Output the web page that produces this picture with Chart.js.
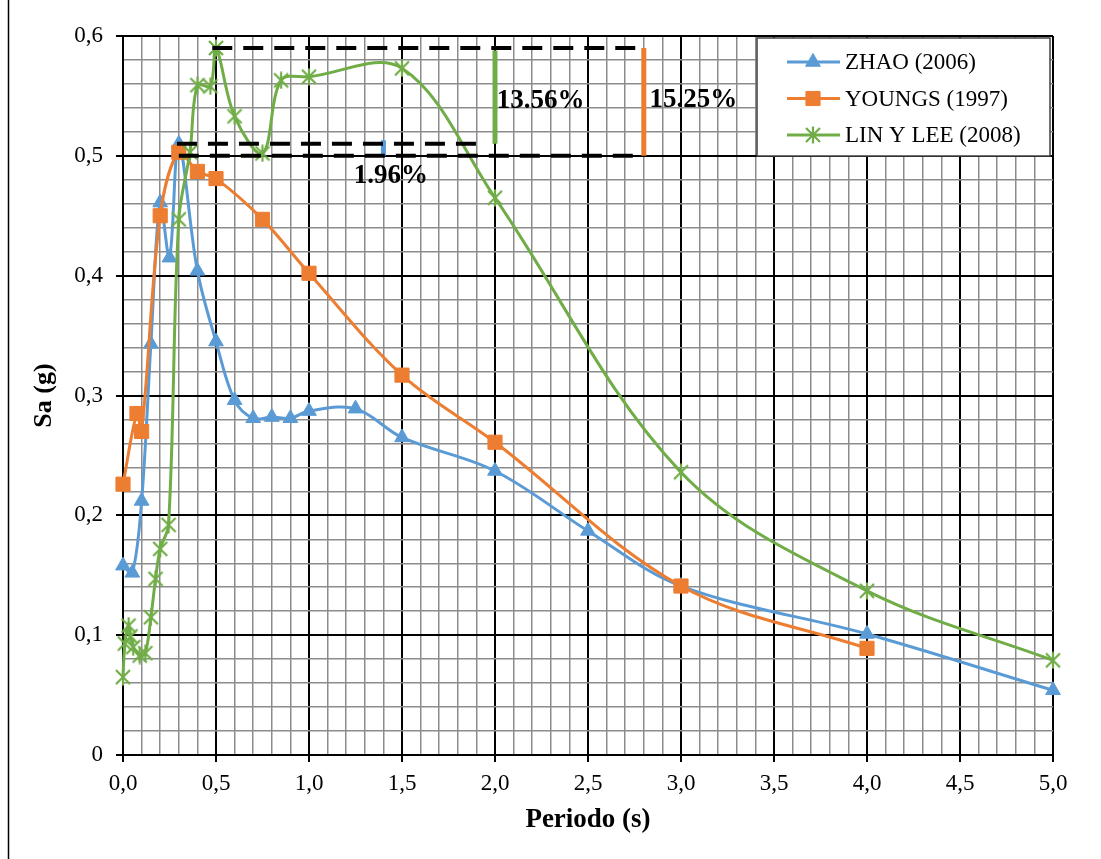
<!DOCTYPE html>
<html>
<head>
<meta charset="utf-8">
<script src="https://cdn.jsdelivr.net/npm/chart.js@4.4.1/dist/chart.umd.min.js"></script>
<style>
  html, body { margin: 0; padding: 0; background: #fff; }
  canvas { display: block; }
</style>
</head>
<body>
<canvas id="chart" width="1101" height="859"></canvas>
<script>
// DATOS (periodo en s, Sa en g)
const zhaoT  = [0, 0.05, 0.1, 0.15, 0.2, 0.25, 0.3, 0.4, 0.5, 0.6, 0.7, 0.8, 0.9, 1.0, 1.25, 1.5, 2.0, 2.5, 3.0, 4.0, 5.0];
const zhaoSa = [0.158, 0.152, 0.212, 0.343, 0.461, 0.415, 0.510, 0.404, 0.345, 0.296, 0.281, 0.282, 0.281, 0.287, 0.289, 0.265, 0.237, 0.187, 0.141, 0.101, 0.054];

const youngsT  = [0, 0.075, 0.1, 0.2, 0.3, 0.4, 0.5, 0.75, 1.0, 1.5, 2.0, 3.0, 4.0];
const youngsSa = [0.226, 0.285, 0.270, 0.450, 0.503, 0.487, 0.481, 0.447, 0.402, 0.317, 0.261, 0.141, 0.089];

const linT  = [0, 0.01, 0.03, 0.04, 0.055, 0.09, 0.12, 0.15, 0.175, 0.2, 0.245, 0.3, 0.36, 0.4, 0.47, 0.5, 0.6, 0.75, 0.85, 1.0, 1.5, 2.0, 3.0, 4.0, 5.0];
const linSa = [0.065, 0.093, 0.108, 0.099, 0.090, 0.083, 0.085, 0.115, 0.147, 0.172, 0.192, 0.447, 0.503, 0.559, 0.558, 0.590, 0.533, 0.502, 0.563, 0.566, 0.573, 0.465, 0.236, 0.137, 0.079];

const seriesNames = ["ZHAO (2006)", "YOUNGS (1997)", "LIN Y LEE (2008)"];

// niveles de referencia y diferencias
const levelLin = 0.59, levelZhao = 0.51, levelYoungs = 0.50;
const pctLabels = ["13.56%", "15.25%", "1.96%"];
const pctX = [2.01, 2.83, 1.24];
const pctY = [0.540, 0.541, 0.4775];

const BLUE = "#5B9BD5", ORANGE = "#ED7D31", GREEN = "#70AD47";
const FONT = "'Liberation Serif', 'Times New Roman', serif";

const toXY = (xs, ys) => xs.map((x, i) => ({ x: x, y: ys[i] }));

// marcador asterisco
function makeStar(color) {
  const c = document.createElement("canvas");
  c.width = 18; c.height = 18;
  const g = c.getContext("2d");
  g.strokeStyle = color;
  g.lineWidth = 2.2;
  g.beginPath();
  g.moveTo(2, 2); g.lineTo(16, 16);
  g.moveTo(16, 2); g.lineTo(2, 16);
  g.moveTo(9, 0.5); g.lineTo(9, 17.5);
  g.stroke();
  return c;
}
const starImg = makeStar(GREEN);

const isMajor = (v, step) => Math.abs(v / step - Math.round(v / step)) < 1e-6;

function dashed(x0, x1, y) {
  return {
    data: [{ x: x0, y: y }, { x: x1, y: y }],
    showLine: true, borderColor: "#000", borderWidth: 4, borderDash: [20, 11],
    pointRadius: 0, tension: 0, order: 0
  };
}
function bar(x, y0, y1, color) {
  return {
    data: [{ x: x, y: y0 }, { x: x, y: y1 }],
    showLine: true, borderColor: color, borderWidth: 5,
    pointRadius: 0, tension: 0, order: 0
  };
}

// fondo y marco
const frame = {
  id: "frame",
  beforeDraw(chart) {
    const ctx = chart.ctx;
    ctx.save();
    ctx.fillStyle = "#fff";
    ctx.fillRect(0, 0, chart.width, chart.height);
    ctx.strokeStyle = "#000";
    ctx.lineWidth = 1.5;
    ctx.beginPath();
    ctx.moveTo(8.5, 0);
    ctx.lineTo(8.5, chart.height);
    ctx.stroke();
    ctx.restore();
  }
};

// textos de porcentaje
const pctText = {
  id: "pctText",
  afterDatasetsDraw(chart) {
    const ctx = chart.ctx;
    const sx = chart.scales.x, sy = chart.scales.y;
    ctx.save();
    ctx.fillStyle = "#000";
    ctx.font = "bold 27px " + FONT;
    ctx.textAlign = "left";
    ctx.textBaseline = "alphabetic";
    pctLabels.forEach((t, i) => {
      ctx.fillText(t, sx.getPixelForValue(pctX[i]), sy.getPixelForValue(pctY[i]));
    });
    ctx.restore();
  }
};

// leyenda dentro del area
const legendBox = {
  id: "legendBox",
  afterDraw(chart) {
    const ctx = chart.ctx;
    const a = chart.chartArea;
    const x0 = a.right - 296, y0 = a.top + 2, w = 293, h = 118;
    ctx.save();
    ctx.fillStyle = "#fff";
    ctx.fillRect(x0, y0, w, h);
    ctx.strokeStyle = "#404040";
    ctx.lineWidth = 1.5;
    ctx.strokeRect(x0, y0, w, h);
    [0, 1, 2].forEach(i => {
      const ds = chart.data.datasets[i];
      const cy = y0 + 24 + i * 36.5;
      ctx.strokeStyle = ds.borderColor;
      ctx.lineWidth = 3;
      ctx.beginPath();
      ctx.moveTo(x0 + 30, cy);
      ctx.lineTo(x0 + 83, cy);
      ctx.stroke();
      ctx.fillStyle = ds.pointBackgroundColor;
      ctx.strokeStyle = ds.pointBorderColor;
      ctx.lineWidth = 1;
      Chart.helpers.drawPoint(ctx, {
        pointStyle: ds.pointStyle, radius: ds.pointRadius, rotation: 0, borderWidth: 1
      }, x0 + 56, cy);
      ctx.fillStyle = "#000";
      ctx.font = "23px " + FONT;
      ctx.textBaseline = "middle";
      ctx.fillText(seriesNames[i], x0 + 88, cy + 1);
    });
    ctx.restore();
  }
};

new Chart(document.getElementById("chart"), {
  type: "scatter",
  data: {
    datasets: [
      {
        label: seriesNames[0], data: toXY(zhaoT, zhaoSa), showLine: true, clip: false,
        borderColor: BLUE, borderWidth: 3, tension: 0.35,
        pointStyle: "triangle", pointRadius: 8.5,
        pointBackgroundColor: BLUE, pointBorderColor: BLUE, pointBorderWidth: 1, order: 3
      },
      {
        label: seriesNames[1], data: toXY(youngsT, youngsSa), showLine: true, clip: false,
        borderColor: ORANGE, borderWidth: 3, tension: 0.35,
        pointStyle: "rect", pointRadius: 10,
        pointBackgroundColor: ORANGE, pointBorderColor: ORANGE, pointBorderWidth: 1, order: 2
      },
      {
        label: seriesNames[2], data: toXY(linT, linSa), showLine: true, clip: false,
        borderColor: GREEN, borderWidth: 3, tension: 0.35,
        pointStyle: starImg, pointRadius: 9,
        pointBackgroundColor: GREEN, pointBorderColor: GREEN, pointBorderWidth: 1, order: 1
      },
      dashed(0.48, 2.77, levelLin),
      dashed(0.29, 1.94, levelZhao),
      dashed(0.30, 2.75, levelYoungs),
      bar(2.0, levelLin - 0.002, levelZhao, GREEN),
      bar(2.8, levelLin, levelYoungs, ORANGE),
      bar(1.4, levelZhao + 0.003, levelYoungs, BLUE)
    ]
  },
  options: {
    responsive: false,
    animation: false,
    layout: { padding: { left: 29, top: 36, right: 48, bottom: 23 } },
    plugins: { legend: { display: false }, tooltip: { enabled: false } },
    scales: {
      x: {
        type: "linear", min: 0, max: 5,
        ticks: {
          stepSize: 0.1, maxTicksLimit: 100, autoSkip: false, maxRotation: 0, padding: 8,
          color: "#000", font: { family: FONT, size: 23 },
          callback: v => isMajor(v, 0.5) ? v.toFixed(1).replace(".", ",") : ""
        },
        grid: {
          color: c => isMajor(c.tick.value, 0.5) ? "#000" : "#8c8c8c",
          lineWidth: c => isMajor(c.tick.value, 0.5) ? 2 : 1.5,
          tickLength: 7, tickWidth: 2,
          tickColor: c => isMajor(c.tick.value, 0.5) ? "#000" : "rgba(0,0,0,0)"
        },
        border: { color: "#000", width: 2 },
        title: {
          display: true, text: "Periodo (s)", color: "#000", padding: 0,
          font: { family: FONT, size: 27, weight: "bold" }
        },
        afterFit: s => { s.height = 81; }
      },
      y: {
        type: "linear", min: 0, max: 0.6,
        ticks: {
          stepSize: 0.02, maxTicksLimit: 100, autoSkip: false, padding: 13,
          color: "#000", font: { family: FONT, size: 23 },
          callback: v => isMajor(v, 0.1) ? (v === 0 ? "0" : v.toFixed(1).replace(".", ",")) : ""
        },
        grid: {
          color: c => isMajor(c.tick.value, 0.1) ? "#000" : "#8c8c8c",
          lineWidth: c => isMajor(c.tick.value, 0.1) ? 2 : 1.5,
          tickLength: 7, tickWidth: 2,
          tickColor: c => isMajor(c.tick.value, 0.1) ? "#000" : "rgba(0,0,0,0)"
        },
        border: { color: "#000", width: 2 },
        title: {
          display: true, text: "Sa (g)", color: "#000", padding: 0,
          font: { family: FONT, size: 26, weight: "bold" }
        },
        afterFit: s => { s.width = 94; }
      }
    }
  },
  plugins: [frame, pctText, legendBox]
});
</script>
</body>
</html>
